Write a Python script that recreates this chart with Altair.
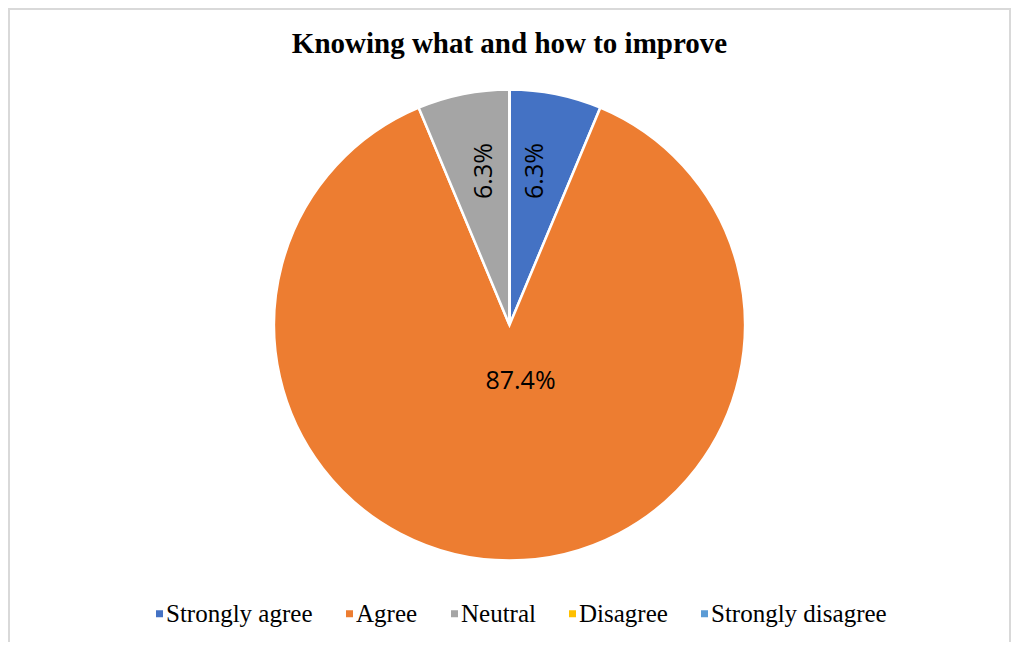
import altair as alt
import pandas as pd

categories = ["Strongly agree", "Agree", "Neutral", "Disagree", "Strongly disagree"]
values = [6.3, 87.4, 6.3, 0.0, 0.0]
labels = ["6.3%", "87.4%", "6.3%", "", ""]
colors = ["#4472C4", "#ED7D31", "#A5A5A5", "#FFC000", "#5B9BD5"]
title_text = "Knowing what and how to improve"

df = pd.DataFrame({
    "category": categories,
    "value": values,
    "label": labels,
    "idx": list(range(len(categories))),
})

base = alt.Chart(df).encode(
    theta=alt.Theta("value:Q", stack=True),
    order=alt.Order("idx:Q"),
)

# square symbol shifted right so it sits close to its label
shifted_square = "M0.714,-1H2.714V1H0.714Z"

arc = base.mark_arc(outerRadius=235.5, stroke="white", strokeWidth=2.5).encode(
    color=alt.Color(
        "category:N",
        sort=categories,
        scale=alt.Scale(domain=categories, range=colors),
        legend=alt.Legend(
            orient="none",
            legendX=133,
            legendY=593,
            direction="horizontal",
            title=None,
            symbolType=shifted_square,
            symbolSize=49,
            symbolStrokeWidth=0,
            labelFont="Liberation Serif",
            labelFontSize=25,
            labelColor="black",
            labelOffset=0,
            labelLimit=0,
            columnPadding=18,
            padding=0,
        ),
    )
)

text_style = dict(radius=157, angle=270, font="Open Sans", fontSize=25, color="black")

first_text = base.mark_text(dy=-5, **text_style).encode(
    text=alt.condition("datum.value > 0 && datum.value < 50 && datum.idx == 0",
                       alt.Text("label:N"), alt.value(""))
)

neutral_text = base.mark_text(dy=5, **text_style).encode(
    text=alt.condition("datum.value > 0 && datum.value < 50 && datum.idx == 2",
                       alt.Text("label:N"), alt.value(""))
)

big_text = base.mark_text(
    radius=56, dx=11, font="Open Sans", fontSize=25, color="black"
).encode(
    text=alt.condition("datum.value >= 50", alt.Text("label:N"), alt.value(""))
)

frame = alt.Chart(alt.Data(values=[{}])).mark_rect(
    fill="transparent", stroke="#d9d9d9", strokeWidth=2
).encode(
    x=alt.value(1), x2=alt.value(1002), y=alt.value(1), y2=alt.value(660)
)

chart = alt.layer(frame, arc, first_text, neutral_text, big_text).properties(
    width=1003,
    height=634,
    padding=0,
    autosize="none",
    title=alt.TitleParams(
        title_text,
        font="Liberation Serif",
        fontSize=29,
        fontWeight="bold",
        color="black",
        anchor="middle",
        offset=0,
        dy=74,
        baseline="alphabetic",
    ),
).configure_view(stroke=None)

chart.save("out.html", embed_options={"renderer": "svg", "actions": False})
